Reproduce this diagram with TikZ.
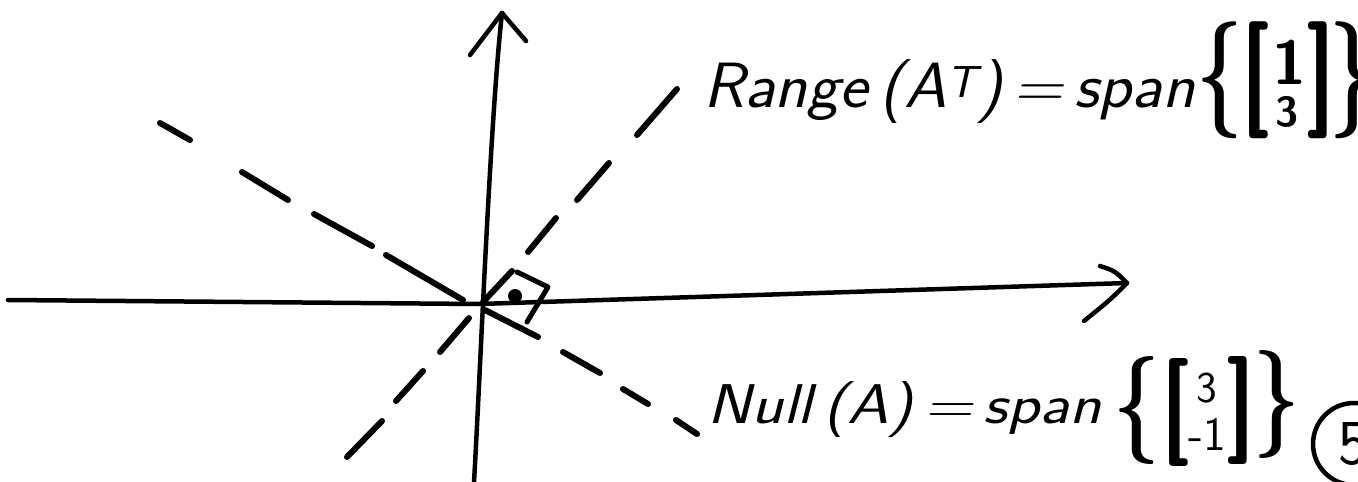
\documentclass[tikz,border=0pt]{standalone}
\begin{document}
\begin{tikzpicture}[x=1pt,y=-1pt,
  axis/.style={line width=4.5pt,line cap=round,line join=round},
  dsh/.style={line width=6pt,line cap=round},
  txt/.style={inner sep=0pt,font=\sffamily\itshape},
  sym/.style={inner sep=0pt,font=\sffamily\bfseries\fontsize{90}{90}\selectfont},
]
\useasboundingbox (0,0) rectangle (1358,482);
\clip (0,0) rectangle (1358,482);
% axes
\coordinate (o) at (479,304);
\coordinate (vtop) at (502,13);
\coordinate (vbot) at (474,482);
\coordinate (hl) at (8,300);
\coordinate (hr) at (1127,283);
\draw[axis] (vbot) .. controls (480,380) and (490,120) .. (vtop);
\draw[axis] (470,55) -- (vtop) -- (526,41);
\draw[axis] (hl) -- (o) -- (hr);
\draw[axis] (1100,266) .. controls (1115,271) .. (hr) .. controls (1110,300) .. (1084,321);
% Null(A) dashed line
\foreach \a/\b in {{(160,123)}/{(190,140)},{(242,172)}/{(288,200)},{(314,214)}/{(372,246)},{(386,255)}/{(463,300)},{(485,310)}/{(538,337)},{(563,352)}/{(600,373)},{(623,389)}/{(648,404)},{(676,420)}/{(697,434)}}
  \draw[dsh] \a -- \b;
% Range(A^T) dashed line
\foreach \a/\b in {{(347,457)}/{(382,421)},{(396,401)}/{(423,371)},{(440,352)}/{(469,318)},{(483,302)}/{(512,271)},{(528,252)}/{(556,218)},{(577,200)}/{(609,163)},{(637,135)}/{(677,89)}}
  \draw[dsh] \a -- \b;
% right-angle mark
\draw[dsh,line width=5pt,line join=round] (517,272) -- (548,287) -- (527,322);
\fill (515,296) circle (7);
% Range label
\node[txt,anchor=base west,font=\sffamily\itshape\fontsize{64}{70}\selectfont] (rng) at (703,107) {\scalebox{1.06}[1]{Range\,(A\textsuperscript{T})\,=\,span}};
\node[sym] (rb1) at (1220,80) {\scalebox{0.9}[1.3]{\{}};
\node[sym] (rl) at (1256,80) {\scalebox{0.9}[1.3]{[}};
\node[txt,font=\sffamily\bfseries\fontsize{62}{62}\selectfont] (r1) at (1290,62) {1};
\node[txt,font=\sffamily\bfseries\fontsize{42}{42}\selectfont] (r3) at (1287,112) {3};
\node[sym] (rr) at (1320,80) {\scalebox{0.9}[1.3]{]}};
\node[sym] (rb2) at (1353,80) {\scalebox{0.9}[1.3]{\}}};
% Null label
\node[txt,anchor=base west,font=\sffamily\itshape\fontsize{56}{60}\selectfont] (nul) at (707,423) {\scalebox{1.18}[1]{Null\,(A)\,=\,span}};
\node[sym] (nb1) at (1137,410) {\scalebox{0.9}[1.2]{\{}};
\node[sym] (nl) at (1176,412) {\scalebox{0.9}[1.2]{[}};
\node[txt,font=\sffamily\fontsize{44}{44}\selectfont] (n3) at (1207,388) {3};
\node[txt,font=\sffamily\fontsize{48}{48}\selectfont] (nm1) at (1207,434) {-1};
\node[sym] (nr) at (1240,410) {\scalebox{0.9}[1.2]{]}};
\node[sym] (nb2) at (1277,404) {\scalebox{0.9}[1.2]{\}}};
\node[draw,circle,line width=4.5pt,minimum size=82pt,inner sep=0pt,font=\sffamily\fontsize{64}{64}\selectfont] (five) at (1354,444) {5};
\end{tikzpicture}
\end{document}
